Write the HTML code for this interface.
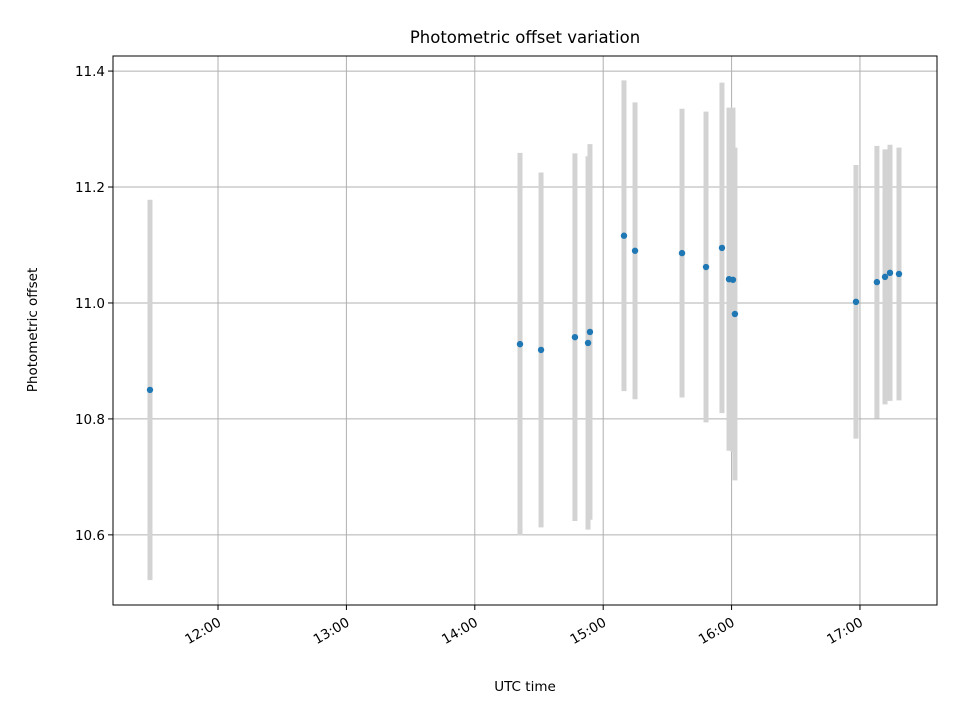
<!DOCTYPE html>
<html><head><meta charset="utf-8"><style>
body{margin:0;background:#fff}
svg text{font-family:"DejaVu Sans","Liberation Sans",sans-serif;font-size:13.5px}
svg text.title{font-size:16.5px}
</style></head><body>
<svg id="chart" width="960" height="720">
<rect width="960" height="720" fill="#fff"/>
<text class="title" x="525" y="43" text-anchor="middle" style="font-size:16.5px">Photometric offset variation</text>
<g id="grid"></g><g id="bars"></g><g id="pts"></g><g id="axes"></g>
<text x="525" y="691" text-anchor="middle" style="font-size:13.5px">UTC time</text>
<text transform="translate(37,330) rotate(-90)" text-anchor="middle" style="font-size:13.5px">Photometric offset</text>
</svg>
<script>
const times=[11.470,14.352,14.516,14.780,14.882,14.897,15.162,15.248,15.614,15.801,15.925,15.980,16.011,16.026,16.969,17.132,17.195,17.234,17.304];
const offsets=[10.850,10.929,10.919,10.941,10.931,10.950,11.116,11.090,11.086,11.062,11.095,11.041,11.040,10.981,11.002,11.036,11.045,11.052,11.050];
const errors=[0.328,0.330,0.306,0.317,0.322,0.324,0.268,0.256,0.249,0.268,0.285,0.296,0.297,0.287,0.236,0.235,0.220,0.221,0.218];
const xTicks=[12,13,14,15,16,17];
const xTickLabels=["12:00","13:00","14:00","15:00","16:00","17:00"];
const yTicks=[10.6,10.8,11.0,11.2,11.4];
const L=113,R=937,T=56,B=605,xMin=11.182,xMax=17.600,yMin=10.479,yMax=11.426;
const X=v=>L+(v-xMin)/(xMax-xMin)*(R-L);
const Y=v=>B-(v-yMin)/(yMax-yMin)*(B-T);
const NS="http://www.w3.org/2000/svg";
function mk(tag,parent,attrs){const e=document.createElementNS(NS,tag);for(const k in attrs)e.setAttribute(k,attrs[k]);document.getElementById(parent).appendChild(e);return e;}
xTicks.forEach((t,i)=>{
 const x=X(t);
 const g=mk('line','grid',{x1:x,x2:x,y1:T,y2:B,stroke:'#b0b0b0','stroke-width':1});
 
 
 const tk=mk('line','axes',{x1:x,x2:x,y1:B,y2:B+5,stroke:'#000'});
 
 
 const lb=mk('text','axes',{transform:`translate(${x+4},${B+20}) rotate(-30)`,'text-anchor':'end',style:'font-size:13.5px'});
 lb.textContent=xTickLabels[i];
 
 
});
yTicks.forEach(t=>{
 const y=Y(t);
 const g=mk('line','grid',{x1:L,x2:R,y1:y,y2:y,stroke:'#b0b0b0','stroke-width':1});
 
 
 const tk=mk('line','axes',{x1:L-5,x2:L,y1:y,y2:y,stroke:'#000'});
 
 
 const lb=mk('text','axes',{x:L-8,y:y+5,'text-anchor':'end',style:'font-size:13.5px'});
 lb.textContent=t.toFixed(1);
 
 
});
const fr=mk('rect','axes',{x:L,y:T,width:R-L,height:B-T,fill:'none',stroke:'#000','stroke-width':1});


times.forEach((t,i)=>{
 const x=X(t);
 const b=mk('line','bars',{x1:x,x2:x,y1:Y(offsets[i]+errors[i]),y2:Y(offsets[i]-errors[i]),stroke:'#d3d3d3','stroke-width':5});
 
 
 const p=mk('circle','pts',{cx:x,cy:Y(offsets[i]),r:3.2,fill:'#1f77b4'});
 
 
});
</script>
</body></html>
